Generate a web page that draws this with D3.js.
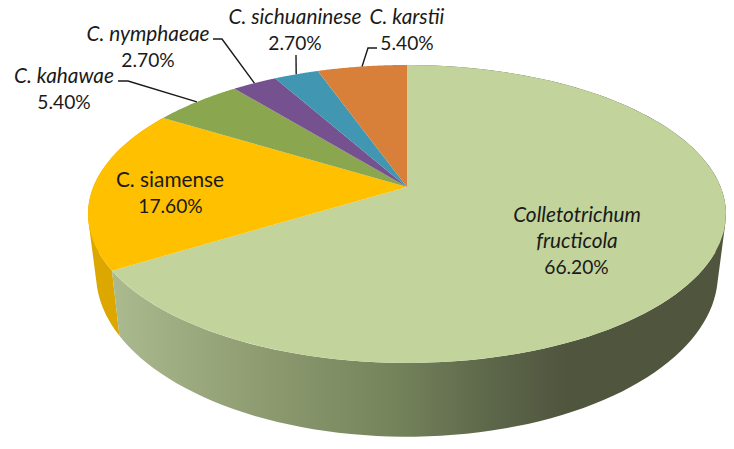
<!DOCTYPE html>
<html><head><meta charset="utf-8">
<script src="https://cdn.jsdelivr.net/npm/d3@7"></script>
<style>html,body{margin:0;background:#fff}svg{display:block}text{font-family:Lato,"Open Sans",sans-serif;font-size:20.8px;fill:#1a1a1a;text-anchor:middle}text.n{font-size:19.2px}</style>
</head><body><svg id="c" width="734" height="449"></svg>
<script>
const categories=["Colletotrichum fructicola","C. siamense","C. kahawae","C. nymphaeae","C. sichuaninese","C. karstii"];
const values=[66.2,17.6,5.4,2.7,2.7,5.4];
const colors=["#c2d39b","#ffc000","#8aa64f","#75528f","#4197b1","#d88039"];
const sideColors=["url(#g)","#dca800",null,null,null,null];
const svg=d3.select("#c");
const k=0.181,cx=407;
const upper={A:313.7,B:144.1,cy:187}, lower={A:305.8,B:157.5,cy:244.4};
function proj(t,r=upper){const w=1+k*Math.cos(t);
  return [cx+r.A*Math.sin(t)/w, r.cy-r.B*Math.cos(t)/w];}
const arcs=d3.pie().sort(null).value(d=>d)(values);
const line=d3.line();
const samples=(a,b,n=60)=>d3.range(0,n+1).map(i=>a+(b-a)*i/n);
const defs=svg.append("defs");
const g=defs.append("linearGradient").attr("id","g").attr("gradientUnits","userSpaceOnUse")
  .attr("x1",115).attr("x2",726).attr("y1",0).attr("y2",0);
[[0,"#abb98f"],[.25,"#8d9a70"],[.45,"#76845c"],[.62,"#5c6649"],[.74,"#50553e"],[1,"#50553e"]]
  .forEach(([o,c])=>g.append("stop").attr("offset",o).attr("stop-color",c));
// sides, back to front: swept quads between upper and lower rim, one path per slice
[1,0].forEach(i=>{const a=arcs[i];
  const ts=samples(a.startAngle,a.endAngle,120);
  const d=d3.pairs(ts).map(([t0,t1])=>{
    const q=[proj(t0),proj(t1),proj(t1,lower),proj(t0,lower)];
    if(d3.polygonArea(q)<0) q.reverse();
    return line(q)+"Z";
  }).join("");
  svg.append("path").attr("d",d).attr("fill",sideColors[i]).attr("fill-rule","nonzero");
});
// top faces
arcs.forEach((a,i)=>{
  const pts=[[cx,187]].concat(samples(a.startAngle,a.endAngle).map(t=>proj(t)));
  svg.append("path").attr("d",line(pts)+"Z").attr("fill",colors[i]);
});
// leader lines
const mid=i=>proj((arcs[i].startAngle+arcs[i].endAngle)/2);
const leaders=[[2,[[118,81],[128,81]]],[3,[[213,39],[222,39]]],[4,[[296,55]]],[5,[[377,48],[368,48]]]];
leaders.forEach(([i,p])=>{
  svg.append("path").attr("d",line(p.concat([mid(i)]))).attr("fill","none").attr("stroke","#1a1a1a").attr("stroke-width",1.4);
});
// labels
const labels=[
 ["C. sichuaninese",295,24,1],["2.70%",295,50,0,1],
 ["C. karstii",407,24,1],["5.40%",407,50,0,1],
 ["C. nymphaeae",148,41,1],["2.70%",148,67,0,1],
 ["C. kahawae",64,83,1],["5.40%",64,109,0,1],
 ["C. siamense",170,187,0],["17.60%",170.5,213,0,1],
 ["Colletotrichum",577,222,1],["fructicola",577,248,1],["66.20%",576.5,274,0,1]];
labels.forEach(([t,x,y,it,n])=>svg.append("text").attr("class",n?"n":null).attr("x",x).attr("y",y).attr("font-style",it?"italic":null).text(t));
</script></body></html>
